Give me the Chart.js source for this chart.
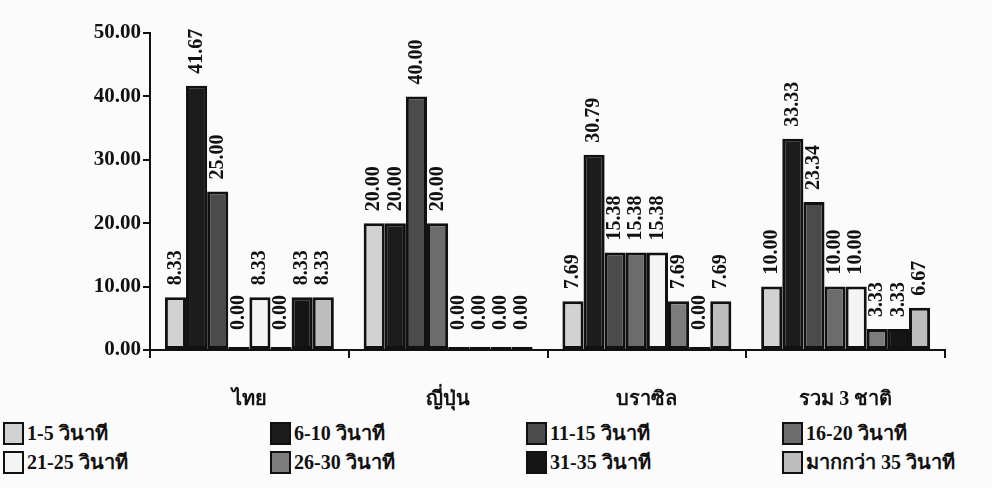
<!DOCTYPE html>
<html>
<head>
<meta charset="utf-8">
<script src="https://cdn.jsdelivr.net/npm/chart.js@4.4.1/dist/chart.umd.min.js"></script>
<style>
    body { margin: 0; background: #fbfbfb; }
    #wrap { position: relative; width: 992px; height: 488px; }
    #chartBox { position: absolute; left: 0; top: 0; width: 992px; height: 420px; }
    .leg-item { position: absolute; font: bold 20px "Liberation Serif", serif; color: #111; line-height: 22px; white-space: nowrap; }
    .leg-item span.sw { position: absolute; left: 0; top: 0; width: 17px; height: 19px; border: 2px solid #111; }
    .leg-item span.tx { position: absolute; top: 0; }
</style>
</head>
<body>
<div id="wrap">
    <div id="chartBox"><canvas id="timeChart"></canvas></div>
    <div id="legend"></div>
</div>
<script>
// Data
const countries = ['ไทย', 'ญี่ปุ่น', 'บราซิล', 'รวม 3 ชาติ'];
const seriesNames = ['1-5 วินาที', '6-10 วินาที', '11-15 วินาที', '16-20 วินาที',
    '21-25 วินาที', '26-30 วินาที', '31-35 วินาที', 'มากกว่า 35 วินาที'];
const sec1to5 = [8.33, 20.00, 7.69, 10.00];
const sec6to10 = [41.67, 20.00, 30.79, 33.33];
const sec11to15 = [25.00, 40.00, 15.38, 23.34];
const sec16to20 = [0.00, 20.00, 15.38, 10.00];
const sec21to25 = [8.33, 0.00, 15.38, 10.00];
const sec26to30 = [0.00, 0.00, 7.69, 3.33];
const sec31to35 = [8.33, 0.00, 0.00, 3.33];
const secOver35 = [8.33, 0.00, 7.69, 6.67];
const yTicks = [0, 10, 20, 30, 40, 50];

const seriesValues = [sec1to5, sec6to10, sec11to15, sec16to20, sec21to25, sec26to30, sec31to35, secOver35];
const seriesColors = ['#d2d2d2', '#1c1c1c', '#4b4b4b', '#6c6c6c', '#f4f4f4', '#7c7c7c', '#151515', '#bdbdbd'];

const serif = '"Liberation Serif", serif';

// rotated value labels above each bar
const barLabels = {
    id: 'barLabels',
    afterDatasetsDraw(chart) {
        const ctx = chart.ctx;
        const zeroY = chart.scales.y.getPixelForValue(0);
        ctx.save();
        ctx.font = 'bold 20px ' + serif;
        ctx.fillStyle = '#111';
        ctx.textAlign = 'left';
        ctx.textBaseline = 'middle';
        chart.data.datasets.forEach((ds, i) => {
            chart.getDatasetMeta(i).data.forEach((bar, j) => {
                const y = Math.min(bar.y, zeroY - 8) - 12;
                ctx.save();
                ctx.translate(bar.x, y);
                ctx.rotate(-Math.PI / 2);
                ctx.fillText(ds.data[j].toFixed(2), 0, 0);
                ctx.restore();
            });
        });
        ctx.restore();
    }
};

new Chart(document.getElementById('timeChart'), {
    type: 'bar',
    data: {
        labels: countries,
        datasets: seriesNames.map((name, i) => ({
            label: name,
            data: seriesValues[i],
            backgroundColor: seriesColors[i],
            borderColor: '#111',
            borderWidth: 3,
            borderSkipped: false,
            minBarLength: 3,
            categoryPercentage: 0.85,
            barPercentage: 1.0
        }))
    },
    options: {
        responsive: true,
        maintainAspectRatio: false,
        animation: false,
        layout: { padding: { top: 33, right: 47, left: 0, bottom: 0 } },
        plugins: {
            legend: { display: false },
            tooltip: { enabled: false }
        },
        scales: {
            x: {
                afterFit: (s) => { s.height = 70; },
                grid: { offset: true, drawOnChartArea: false, tickLength: 8, color: '#111', lineWidth: 2 },
                border: { display: true, color: '#111', width: 2 },
                ticks: { color: '#111', padding: 30, font: { family: serif, size: 20, weight: 'bold' } }
            },
            y: {
                min: 0,
                max: 50,
                afterFit: (s) => { s.width = 150; },
                afterBuildTicks: (s) => { s.ticks = yTicks.map(v => ({ value: v })); },
                grid: { drawOnChartArea: false, tickLength: 7, color: '#111', lineWidth: 2 },
                border: { display: true, color: '#111', width: 2 },
                ticks: {
                    color: '#111',
                    padding: 2,
                    font: { family: serif, size: 21, weight: 'bold' },
                    callback: (v) => Number(v).toFixed(2)
                }
            }
        }
    },
    plugins: [barLabels]
});

// legend, 4 columns x 2 rows
const legendCols = [3, 270, 526, 782];
const legendRows = [422, 451];
const legendEl = document.getElementById('legend');
seriesNames.forEach((name, i) => {
    const item = document.createElement('div');
    item.className = 'leg-item';
    item.style.left = legendCols[i % 4] + 'px';
    item.style.top = legendRows[Math.floor(i / 4)] + 'px';
    item.innerHTML = '<span class="sw" style="background:' + seriesColors[i] + '"></span>' +
        '<span class="tx" style="left:24px">' + name + '</span>';
    legendEl.appendChild(item);
});
</script>
</body>
</html>
